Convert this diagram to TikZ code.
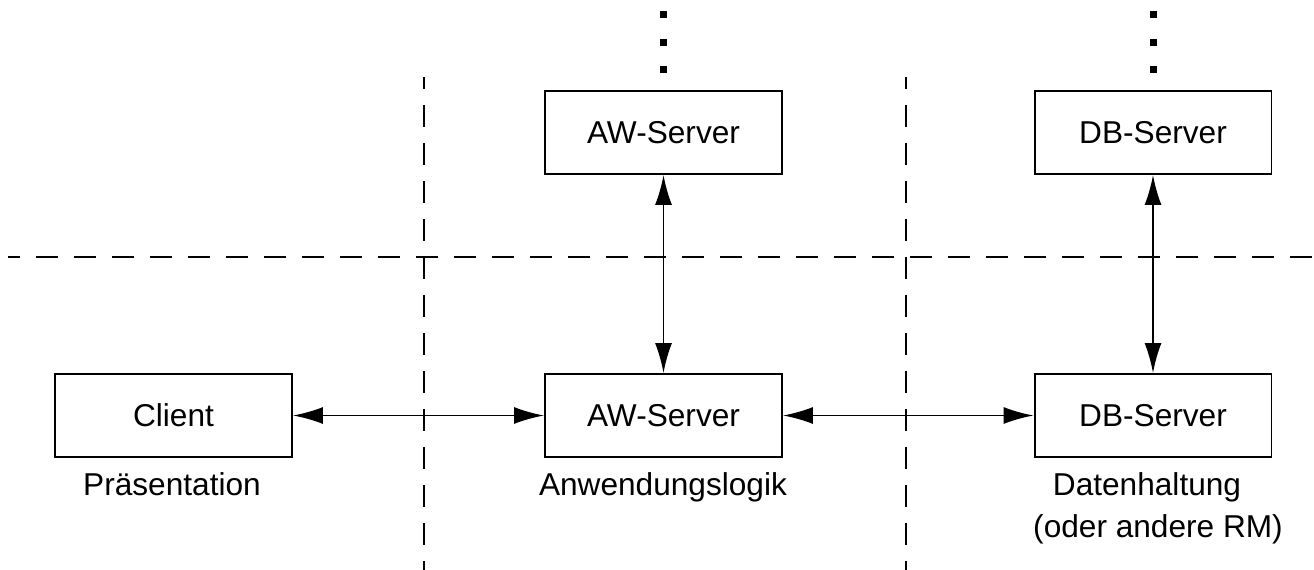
\documentclass[tikz,border=0pt]{standalone}
\usepackage{fontspec}
\setmainfont{Liberation Sans}
\usepackage{tikz}
\usetikzlibrary{arrows.meta}

\begin{document}
\begin{tikzpicture}[x=0.02cm, y=-0.02cm, line width=1.1pt,
	font=\fontsize{18}{22}\selectfont,
	serverbox/.style={draw, minimum width=4.74cm, minimum height=1.66cm, inner sep=0pt},
	tier/.style={anchor=base},
	link/.style={>={Latex[length=6mm, width=3.4mm]}, <->},
	divider/.style={dash pattern=on 0.44cm off 0.32cm, dash phase=0.2cm},
	dot/.style={fill=black, minimum size=0.14cm, inner sep=0pt}]
	\useasboundingbox (0,0) rectangle (1314,570);

	% Schichtgrenzen
	\draw[divider] (8,257) -- (1314,257);
	\draw[divider] (424,77) -- (424,570);
	\draw[divider] (906,77) -- (906,570);

	\node[serverbox]	(client)	at	(173.5,415.5)	{Client};
	\node[serverbox]	(aw)		at	(663.5,415.5)	{AW-Server};
	\node[serverbox]	(db)		at	(1153,415.5)	{DB-Server};
	\node[serverbox]	(awtop)		at	(663.5,132.5)	{AW-Server};
	\node[serverbox]	(dbtop)		at	(1153,132.5)	{DB-Server};

	\node[tier]	(praes)	at	(172,495)	{Präsentation};
	\node[tier]	(logik)	at	(663,495)	{Anwendungslogik};
	\node[tier]	(daten)	at	(1147,495)	{Datenhaltung};
	\node[tier]	(rm)	at	(1158,537)	{(oder andere RM)};

	\foreach \y [count=\i] in {15,43,70} {
		\node[dot] (awdot\i) at (663.5,\y) {};
		\node[dot] (dbdot\i) at (1153,\y) {};
	}

	\draw[link] (client) -- (aw);
	\draw[link] (aw) -- (db);
	\draw[link] (awtop) -- (aw);
	\draw[link] (dbtop) -- (db);

\end{tikzpicture}
\end{document}
